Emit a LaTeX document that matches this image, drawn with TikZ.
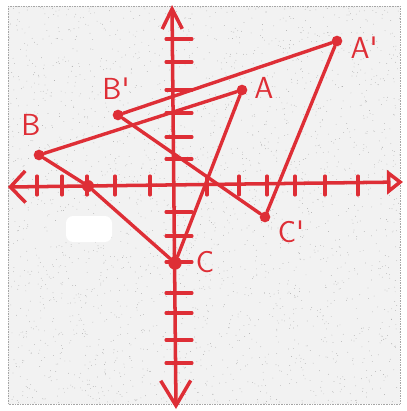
\documentclass[tikz,border=0pt]{standalone}
\usepackage{xcolor}
\usetikzlibrary{arrows.meta}
\definecolor{marker_red}{RGB}{222,46,54}
\definecolor{paper_gray}{RGB}{242,242,242}

\begin{document}
\begin{tikzpicture}[x=0.03cm,y=-0.03cm,
    axis/.style={marker_red, line width=3pt, line cap=round},
    edge/.style={marker_red, line width=2.9pt, line cap=round},
    tick/.style={marker_red, line width=2.7pt, line cap=round},
    dot/.style={circle, fill=marker_red, inner sep=0pt, minimum size=3.2mm},
    lbl/.style={text=marker_red, font=\sffamily\fontsize{26}{28}\selectfont, inner sep=1pt}]

    \useasboundingbox (0,0) rectangle (406,411);

    % Paper
    \fill[paper_gray] (8,6) rectangle (400,404);
    \pgfmathsetseed{42}
    \foreach \i in {1,...,2500}
        \fill[gray!75] ({8+392*rnd},{6+398*rnd}) circle (0.3pt);
    \draw[gray!70, densely dotted] (8,6) rectangle (400,404);
    \fill[white, rounded corners=6pt] (66,216) rectangle (112,242);

    % Axes
    \draw[axis, {Straight Barb[length=4.5mm,width=9.5mm]}-{Triangle[open,length=4.8mm,width=7.2mm]}] (8,187) -- (403,182);
    \draw[axis, {Straight Barb[length=6mm,width=6mm]}-{Straight Barb[length=7.5mm,width=9mm]}] (172,5) -- (176,409);

    % Ticks
    \foreach \x in {37,62,87,115,150,207,239,267,295,325,358}
        \draw[tick] (\x,176) -- (\x,195);
    \foreach \y in {39,62,90,113,137,159,212,236,262,293,313,340,363}
        \draw[tick] (166,\y) -- (192,\y);

    % Points
    \node[dot] (pA) at (242,90) {};
    \node[dot] (pB) at (39,155) {};
    \node[dot, minimum size=4mm] (pC) at (175,263) {};
    \node[dot, minimum size=3.6mm] (xint) at (88,186) {};
    \node[dot] (pAp) at (337,41) {};
    \node[dot] (pBp) at (118,115) {};
    \node[dot] (pCp) at (265,217) {};

    % Triangle ABC
    \draw[edge] (pB) -- (pA) -- (pC) -- (xint) -- (pB);

    % Triangle A'B'C'
    \draw[edge] (pBp) -- (pAp) -- (pCp) -- (pBp);

    % Labels
    \node[lbl] (lA) at (264,88) {A};
    \node[lbl] (lB) at (31,125) {B};
    \node[lbl] (lC) at (205,262) {C};
    \node[lbl] (lAp) at (364,48) {A\textquotesingle};
    \node[lbl] (lBp) at (116,89) {B\textquotesingle};
    \node[lbl] (lCp) at (291,232) {C\textquotesingle};
\end{tikzpicture}
\end{document}
